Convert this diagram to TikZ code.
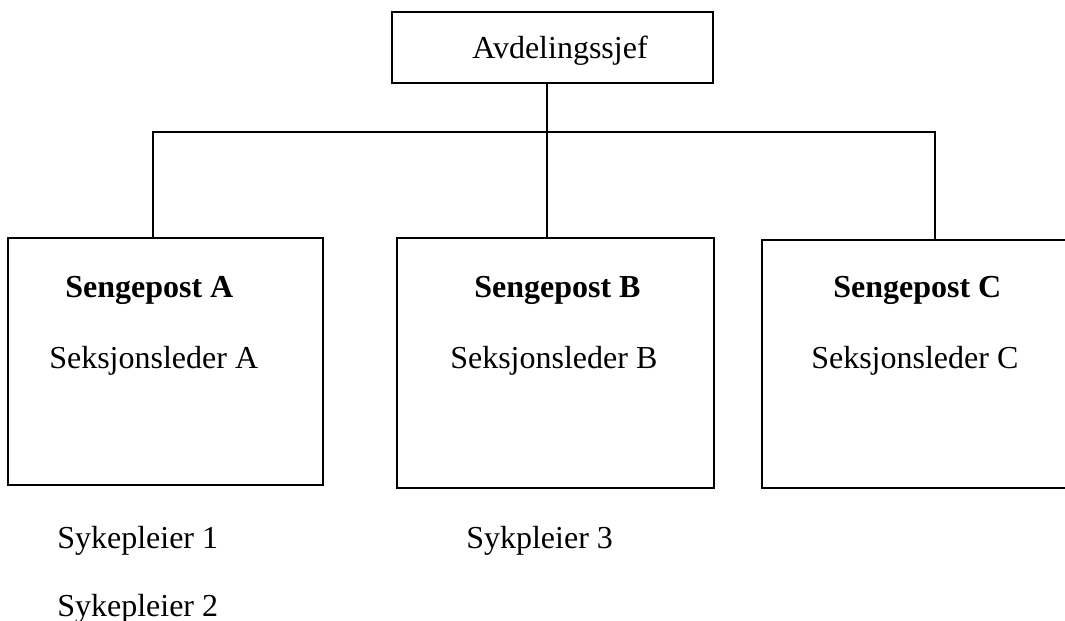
\documentclass[tikz,border=0pt]{standalone}
\usepackage{fontspec}
\setmainfont{Liberation Serif}
\usetikzlibrary{fit}
\begin{document}
\begin{tikzpicture}[x=0.75pt,y=-0.75pt,
  box/.style={draw, line width=1pt, inner sep=0pt},
  lbl/.style={anchor=base west, inner sep=0pt, font=\fontsize{24}{29}\selectfont},
  blbl/.style={lbl, font=\fontsize{24}{29}\selectfont\bfseries},
  conn/.style={line width=1pt}]
\useasboundingbox (0,0) rectangle (1065,621);
\clip (0,0) rectangle (1065,621);
% boxes
\node[box, fit={(392,12)(713,83)}] (top) {};
\node[box, fit={(8,238)(323,485)}] (A) {};
\node[box, fit={(397,238)(714,488)}] (B) {};
\node[box, fit={(762,240)(1090,488)}] (C) {};
% texts
\node[lbl] (tTop) at (472,58) {Avdelingssjef};
\node[blbl] (tA) at (65,297) {Sengepost A};
\node[lbl] (sA) at (49,368) {Seksjonsleder A};
\node[blbl] (tB) at (474,297) {Sengepost B};
\node[lbl] (sB) at (450,368) {Seksjonsleder B};
\node[blbl] (tC) at (833,297) {Sengepost C};
\node[lbl] (sC) at (811,368) {Seksjonsleder C};
\node[lbl] (p1) at (57,548) {Sykepleier 1};
\node[lbl] (p2) at (57,616) {Sykepleier 2};
\node[lbl] (p3) at (466,548) {Sykpleier 3};
% connectors
\coordinate (jA) at (153,132);
\coordinate (jB) at (547,132);
\coordinate (jC) at (935,132);
\coordinate (hL) at (152,132);
\coordinate (hR) at (936,132);
\draw[conn] (hL) -- (hR);
\draw[conn] (jB |- top.south) -- (jB |- B.north);
\draw[conn] (jA) -- (jA |- A.north);
\draw[conn] (jC) -- (jC |- C.north);
\end{tikzpicture}
\end{document}
